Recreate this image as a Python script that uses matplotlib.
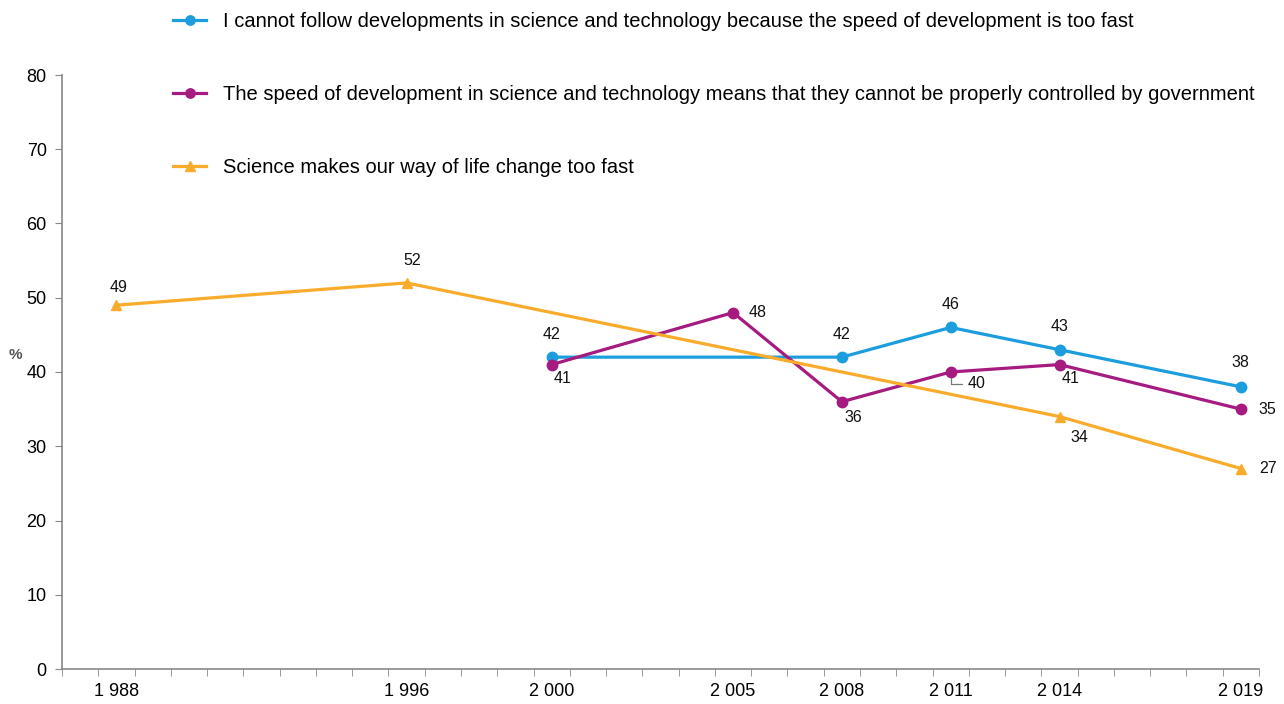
import matplotlib
matplotlib.use("Agg")
import matplotlib.pyplot as plt
from matplotlib.ticker import FixedLocator

plt.rcParams['font.family'] = ['Liberation Sans', 'DejaVu Sans']

# ---- data ----
blue_years = [2000, 2008, 2011, 2014, 2019]
blue_vals = [42, 42, 46, 43, 38]
purple_years = [2000, 2005, 2008, 2011, 2014, 2019]
purple_vals = [41, 48, 36, 40, 41, 35]
orange_years = [1988, 1996, 2014, 2019]
orange_vals = [49, 52, 34, 27]

labels = [
    "I cannot follow developments in science and technology because the speed of development is too fast",
    "The speed of development in science and technology means that they cannot be properly controlled by government",
    "Science makes our way of life change too fast",
]
tick_years = [1988, 1996, 2000, 2005, 2008, 2011, 2014, 2019]
tick_labels = ["1 988", "1 996", "2 000", "2 005", "2 008", "2 011", "2 014", "2 019"]
first_year, last_year = 1987, 2019

# ---- style ----
c_blue = "#1c9ddd"
c_purple = "#a51b80"
c_orange = "#f9ab2b"

fig = plt.figure(figsize=(12.84, 7.04), dpi=100)
W, H = 1284, 704
ax = fig.add_axes([62 / W, (H - 669) / H, (1259 - 62) / W, (669 - 75) / H])

lb, = ax.plot(blue_years, blue_vals, color=c_blue, lw=2.3, marker='o', ms=7.5, zorder=3)
lp, = ax.plot(purple_years, purple_vals, color=c_purple, lw=2.3, marker='o', ms=7.5, zorder=3)
lo, = ax.plot(orange_years, orange_vals, color=c_orange, lw=2.3, marker='^', ms=7.5, zorder=3)

ax.set_xlim(first_year - 0.5, last_year + 0.5)
ax.set_ylim(0, 80)
ax.set_yticks(range(0, 81, 10))
ax.set_xticks(tick_years)
ax.set_xticklabels(tick_labels)
ax.xaxis.set_minor_locator(FixedLocator([y - 0.5 for y in range(first_year, last_year + 2)]))
ax.tick_params(axis='x', which='major', length=0, pad=10, labelsize=13)
ax.tick_params(axis='x', which='minor', length=5, color='#888888', direction='out')
ax.tick_params(axis='y', length=5, color='#888888', direction='out', pad=6, labelsize=13)

for s in ['top', 'right']:
    ax.spines[s].set_visible(False)
for s in ['left', 'bottom']:
    ax.spines[s].set_color('#888888')
    ax.spines[s].set_linewidth(1.2)

fig.text(15 / W, 1 - 355 / H, "%", fontsize=11, fontweight='bold', color='#555555',
         ha='center', va='center')

# data labels: (offset pixels)
def lab(x, y, dx, dy, **kw):
    ax.annotate(f"{y}", (x, y), xytext=(dx, dy), textcoords='offset pixels',
                ha='center', va='center', fontsize=11.5, color='#111111', **kw)

blue_off = [(0, 23), (0, 23), (0, 23), (0, 23), (0, 24)]
purple_off = [(11, -14), (25, 0), (11, -16), (26, -12), (11, -14), (26, 0)]
orange_off = [(2, 18), (6, 22), (20, -21), (27, 0)]

for (x, y), (dx, dy) in zip(zip(blue_years, blue_vals), blue_off):
    lab(x, y, dx, dy)
for (x, y), (dx, dy) in zip(zip(purple_years, purple_vals), purple_off):
    if x == 2011:
        lab(x, y, dx, dy,
            arrowprops=dict(arrowstyle='-', color='#777777', lw=0.9,
                            shrinkA=2, shrinkB=4,
                            connectionstyle='angle,angleA=0,angleB=90,rad=0'))
    else:
        lab(x, y, dx, dy)
for (x, y), (dx, dy) in zip(zip(orange_years, orange_vals), orange_off):
    lab(x, y, dx, dy)

leg = ax.legend([lb, lp, lo], labels, loc='upper left',
                bbox_to_anchor=(161 / W, 1 - 0 / H), bbox_transform=fig.transFigure,
                frameon=False, fontsize=14.5, labelspacing=2.67, handlelength=1.65,
                handletextpad=0.85, markerscale=0.9, borderpad=0.1)

fig.savefig("out.png", dpi=100)
